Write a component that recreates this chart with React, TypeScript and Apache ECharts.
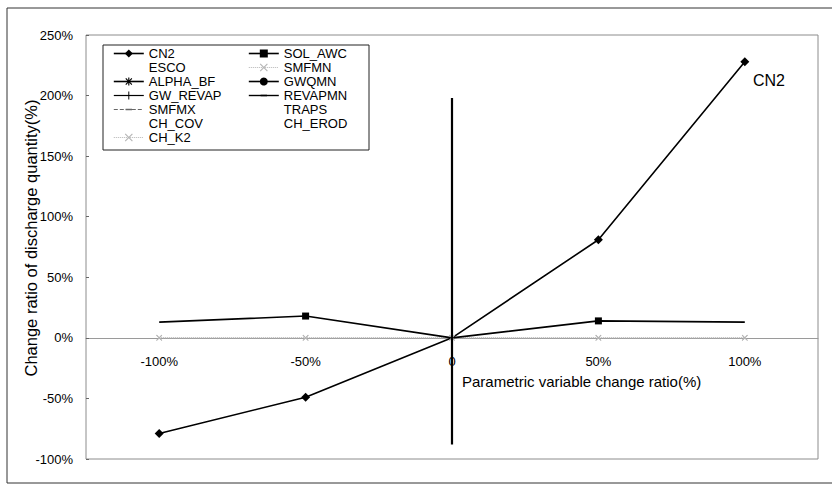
import React, { useEffect, useRef } from 'react';
import * as echarts from 'echarts';

// ---------- data ----------
const xLabels = ['-100%', '-50%', '0', '50%', '100%'];
const yMin = -100;
const yMax = 250;
const yInterval = 50;

const cn2 = [-79, -49, 0, 81, 228];
const solAwc = [13, 18, 0, 14, 13];
const esco = [0, 0, 0, 0, 0];
const smfmn = [0, 0, 0, 0, 0];
const alphaBf = [0, 0, 0, 0, 0];
const gwqmn = [0, 0, 0, 0, 0];
const gwRevap = [0, 0, 0, 0, 0];
const revapmn = [0, 0, 0, 0, 0];
const smfmx = [0, 0, 0, 0, 0];
const traps = [0, 0, 0, 0, 0];
const chCov = [0, 0, 0, 0, 0];
const chErod = [0, 0, 0, 0, 0];
const chK2 = [0, 0, 0, 0, 0];

// vertical reference line at x = 0 (in y-axis units)
const refLineTop = 198;
const refLineBottom = -88;

const legendCol1 = ['CN2', 'ESCO', 'ALPHA_BF', 'GW_REVAP', 'SMFMX', 'CH_COV', 'CH_K2'];
const legendCol2 = ['SOL_AWC', 'SMFMN', 'GWQMN', 'REVAPMN', 'TRAPS', 'CH_EROD'];

// ---------- layout ----------
const GRID_TOP = 35;
const GRID_BOTTOM = 28;
const CHART_H = 487;
const PLOT_H = CHART_H - GRID_TOP - GRID_BOTTOM;
// shift the category axis up so it sits on the zero line
const X_AXIS_OFFSET = -((0 - yMin) / (yMax - yMin)) * PLOT_H;

// ---------- symbols ----------
const X_PATH = 'path://M0,1L1,0L5,4L9,0L10,1L6,5L10,9L9,10L5,6L1,10L0,9L4,5Z';
const STAR_PATH =
  'path://M4.3,0H5.7V3.3L8.3,0.7L9.3,1.7L6.7,4.3H10V5.7H6.7L9.3,8.3L8.3,9.3L5.7,6.7V10H4.3V6.7L1.7,9.3L0.7,8.3L3.3,5.7H0V4.3H3.3L0.7,1.7L1.7,0.7L4.3,3.3Z';
const PLUS_PATH = 'path://M4.4,0H5.6V4.4H10V5.6H5.6V10H4.4V5.6H0V4.4H4.4Z';
const DASH_PATH =
  'path://M0,0L0.01,0L0,0.01Z M1,4H9V6H1Z M10,10L9.99,10L10,9.99Z';

const FONT = 'Liberation Sans, Arial, Helvetica, sans-serif';

type Meta = {
  name: string;
  data: number[];
  symbol: string;
  visible: boolean;
  color: string;
  lineType: 'solid' | 'dashed' | 'dotted';
  width: number;
  symbolSize: number;
  legendShow: boolean;
  hideAt?: number[];
};

const metas: Meta[] = [
  { name: 'ESCO', data: esco, symbol: 'circle', visible: false, color: '#000', lineType: 'solid', width: 1, symbolSize: 6, legendShow: false },
  { name: 'ALPHA_BF', data: alphaBf, symbol: STAR_PATH, visible: false, color: '#000', lineType: 'solid', width: 1.6, symbolSize: 8, legendShow: true },
  { name: 'GWQMN', data: gwqmn, symbol: 'circle', visible: false, color: '#000', lineType: 'solid', width: 1.6, symbolSize: 7, legendShow: true },
  { name: 'GW_REVAP', data: gwRevap, symbol: PLUS_PATH, visible: false, color: '#000', lineType: 'solid', width: 1.2, symbolSize: 8, legendShow: true },
  { name: 'REVAPMN', data: revapmn, symbol: DASH_PATH, visible: false, color: '#000', lineType: 'solid', width: 1.4, symbolSize: 8, legendShow: true },
  { name: 'SMFMX', data: smfmx, symbol: DASH_PATH, visible: false, color: '#666', lineType: 'dashed', width: 1, symbolSize: 8, legendShow: true },
  { name: 'TRAPS', data: traps, symbol: 'circle', visible: false, color: '#000', lineType: 'solid', width: 1, symbolSize: 6, legendShow: false },
  { name: 'CH_COV', data: chCov, symbol: 'circle', visible: false, color: '#000', lineType: 'solid', width: 1, symbolSize: 6, legendShow: false },
  { name: 'CH_EROD', data: chErod, symbol: 'circle', visible: false, color: '#000', lineType: 'solid', width: 1, symbolSize: 6, legendShow: false },
  { name: 'SMFMN', data: smfmn, symbol: X_PATH, visible: true, color: '#b5b5b5', lineType: 'dotted', width: 1, symbolSize: 6, legendShow: true },
  { name: 'CH_K2', data: chK2, symbol: X_PATH, visible: true, color: '#b5b5b5', lineType: 'dotted', width: 1, symbolSize: 6, legendShow: true },
  { name: 'SOL_AWC', data: solAwc, symbol: 'rect', visible: true, color: '#000', lineType: 'solid', width: 1.6, symbolSize: 7, legendShow: true, hideAt: [0, 2, 4] },
  { name: 'CN2', data: cn2, symbol: 'diamond', visible: true, color: '#000', lineType: 'solid', width: 1.6, symbolSize: 9, legendShow: true, hideAt: [2] },
];

const metaByName: Record<string, Meta> = {};
metas.forEach((m) => (metaByName[m.name] = m));

function legendItem(name: string) {
  const m = metaByName[name];
  return {
    name,
    lineStyle: {
      color: m.color,
      type: m.lineType,
      width: m.width,
      opacity: m.legendShow ? 1 : 0,
    },
    itemStyle: {
      color: m.color,
      opacity: m.legendShow ? 1 : 0,
      borderWidth: 0,
    },
  };
}

export default function App() {
  const ref = useRef<HTMLDivElement>(null);

  useEffect(() => {
    if (!ref.current) return;
    const chart = echarts.init(ref.current, undefined, { renderer: 'svg' });

    const series: any[] = metas.map((m) => ({
      name: m.name,
      type: 'line',
      data: m.data.map((v, i) =>
        m.hideAt && m.hideAt.includes(i) ? { value: v, symbol: 'none' } : v
      ),
      symbol: m.symbol,
      symbolSize: m.symbolSize,
      symbolKeepAspect: true,
      showSymbol: m.visible,
      lineStyle: {
        color: m.color,
        type: m.lineType,
        width: m.width,
        opacity: m.visible ? 1 : 0,
      },
      itemStyle: { color: m.color },
      emphasis: { disabled: true },
      silent: true,
      z: 3,
    }));

    series.push({
      name: '__ref',
      type: 'line',
      data: [],
      silent: true,
      markLine: {
        silent: true,
        symbol: 'none',
        label: { show: false },
        lineStyle: { color: '#000', width: 2.2, type: 'solid' },
        data: [[{ coord: ['0', refLineTop] }, { coord: ['0', refLineBottom] }]],
      },
      z: 2,
    });

    const legendCommon = {
      orient: 'vertical',
      itemWidth: 30,
      itemHeight: 10,
      itemGap: 1,
      padding: 0,
      selectedMode: false,
      symbolKeepAspect: true,
      textStyle: { fontFamily: FONT, fontSize: 13, color: '#000' },
    };

    chart.setOption({
      animation: false,
      backgroundColor: '#fff',
      grid: {
        left: 86,
        right: 16,
        top: GRID_TOP,
        bottom: GRID_BOTTOM,
        show: true,
        borderColor: '#8c8c8c',
        borderWidth: 1,
        backgroundColor: 'transparent',
      },
      xAxis: {
        type: 'category',
        data: xLabels,
        boundaryGap: true,
        position: 'bottom',
        offset: X_AXIS_OFFSET,
        axisLine: { onZero: false, lineStyle: { color: '#9a9a9a', width: 1 } },
        axisTick: { show: false },
        axisLabel: { color: '#000', fontFamily: FONT, fontSize: 13, margin: 17 },
        splitLine: { show: false },
      },
      yAxis: {
        type: 'value',
        min: yMin,
        max: yMax,
        interval: yInterval,
        axisLine: { show: false },
        axisTick: { show: true, inside: true, length: 3, lineStyle: { color: '#666' } },
        axisLabel: {
          color: '#000',
          fontFamily: FONT,
          fontSize: 13,
          margin: 13,
          formatter: '{value}%',
        },
        splitLine: { show: false },
      },
      legend: [
        { ...legendCommon, left: 113, top: 47, data: legendCol1.map(legendItem) },
        { ...legendCommon, left: 248, top: 47, data: legendCol2.map(legendItem) },
      ],
      graphic: [
        {
          type: 'polyline',
          silent: true,
          shape: { points: [[832, 8], [7, 8], [7, 483], [832, 483]] },
          style: { fill: 'none', stroke: '#333', lineWidth: 1 },
          z: 0,
        },
        {
          type: 'rect',
          silent: true,
          shape: { x: 103, y: 45, width: 266, height: 105 },
          style: { fill: '#fff', stroke: '#222', lineWidth: 1 },
          z: 1,
        },
        {
          type: 'text',
          silent: true,
          x: 753,
          y: 80,
          style: {
            text: 'CN2',
            fontFamily: FONT,
            fontSize: 16,
            fill: '#000',
            align: 'left',
            verticalAlign: 'middle',
          },
          z: 10,
        },
        {
          type: 'text',
          silent: true,
          x: 462,
          y: 381,
          style: {
            text: 'Parametric variable change ratio(%)',
            fontFamily: FONT,
            fontSize: 15,
            fill: '#000',
            align: 'left',
            verticalAlign: 'middle',
          },
          z: 10,
        },
        {
          type: 'text',
          silent: true,
          x: 31,
          y: 238,
          rotation: Math.PI / 2,
          style: {
            text: 'Change ratio of discharge quantity(%)',
            fontFamily: FONT,
            fontSize: 16.5,
            fill: '#000',
            align: 'center',
            verticalAlign: 'middle',
          },
          z: 10,
        },
      ],
      series,
    });

    return () => chart.dispose();
  }, []);

  return (
    <div
      ref={ref}
      style={{ position: 'absolute', left: 0, top: 0, width: 834, height: 487 }}
    />
  );
}
